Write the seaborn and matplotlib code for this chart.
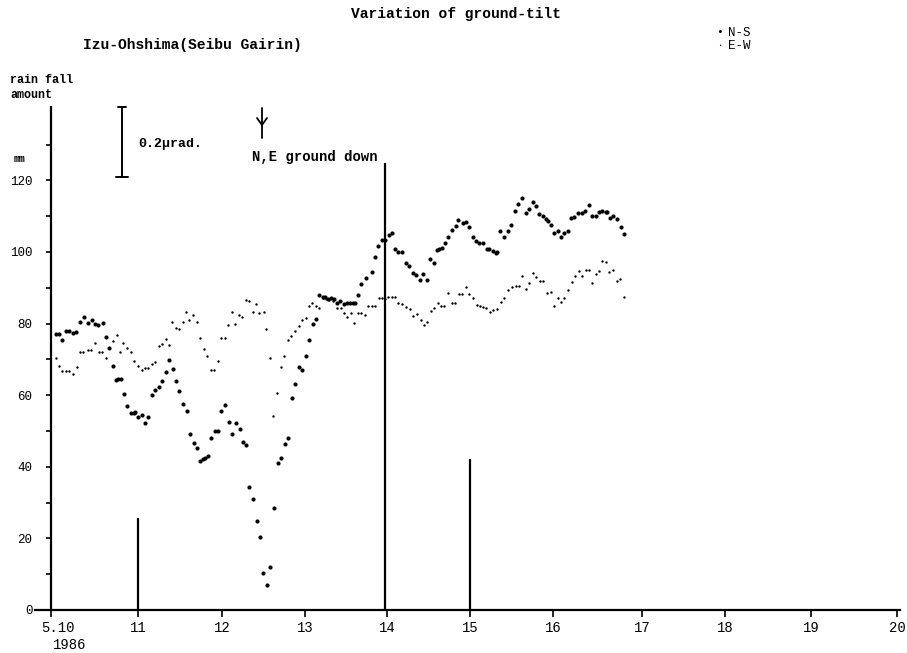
import numpy as np
import pandas as pd
import matplotlib
matplotlib.use("Agg")
import matplotlib.pyplot as plt
from matplotlib.lines import Line2D
from matplotlib.transforms import ScaledTranslation
import seaborn as sns

# ---------------- data (hours since 1986-05-10 00:00) ----------------
ns_hours = [1.4, 2.3, 3.2, 4.3, 5.1, 6.2, 7.1, 8.2, 9.4, 10.4, 11.5, 12.6, 13.4, 14.7,
            15.7, 16.5, 17.6, 18.5, 19.1, 19.8, 20.7, 21.6, 22.7, 23.5, 23.8, 24.6, 25.8,
            26.7, 27.6, 28.7, 29.6, 30.6, 31.6, 32.6, 33.5, 34.5, 35.4, 36.4, 37.4, 38.5,
            39.3, 40.5, 41.4, 42.3, 43.0, 43.8, 44.6, 45.3, 46.5, 47.5, 48.2, 49.3, 50.4,
            51.4, 52.4, 53.5, 54.4, 55.4, 56.2, 57.2, 58.4, 59.2, 60.1, 61.2, 62.1, 63.2,
            64.3, 65.3, 66.3, 67.3, 68.3, 69.3, 70.4, 71.3, 72.3, 73.3, 74.2, 75.2, 76.1,
            77.1, 77.7, 78.7, 79.4, 80.3, 81.1, 82.0, 83.1, 83.9, 84.8, 85.6, 86.2, 87.0,
            87.9, 89.4, 91.0, 91.9, 92.9, 94.0, 94.8, 96.0, 96.7, 97.6, 98.5, 99.5, 100.6,
            101.7, 102.6, 103.6, 104.7, 105.6, 106.8, 107.5, 108.6, 109.4, 110.2, 110.8,
            111.8, 112.7, 113.7, 114.8, 115.6, 116.8, 117.7, 118.7, 119.6, 120.6, 121.5,
            122.5, 123.6, 124.3, 125.3, 126.2, 126.6, 127.4, 128.5, 129.6, 130.5, 131.6,
            132.6, 133.7, 134.7, 135.7, 136.8, 137.6, 138.5, 139.5, 140.4, 141.1, 141.8,
            142.8, 143.7, 144.7, 145.6, 146.6, 147.5, 148.5, 149.6, 150.6, 151.5, 152.6,
            153.6, 154.5, 155.5, 156.4, 157.4, 157.8, 158.6, 159.5, 160.5, 161.6, 162.6]
ns_tilt = [77.0, 77.0, 75.4, 78.0, 78.0, 77.4, 77.6, 80.5, 81.8, 80.2, 81.0, 80.0, 79.6, 80.3,
           76.3, 73.2, 68.2, 64.2, 64.5, 64.6, 60.3, 57.0, 55.0, 55.1, 55.3, 53.9, 54.4,
           52.3, 54.0, 60.0, 61.5, 62.3, 64.0, 66.4, 69.8, 67.2, 64.1, 61.2, 57.5, 55.6,
           49.1, 46.6, 45.3, 41.7, 42.1, 42.5, 43.0, 48.0, 50.0, 50.0, 55.7, 57.2, 52.6,
           49.1, 52.2, 50.5, 47.0, 46.0, 34.4, 30.9, 24.9, 20.3, 10.4, 6.9, 11.9, 28.4,
           41.0, 42.5, 46.5, 48.1, 59.2, 63.0, 68.0, 67.0, 70.9, 75.4, 79.8, 81.4, 87.9,
           87.5, 87.3, 86.8, 87.1, 86.8, 85.8, 86.4, 85.4, 85.7, 85.8, 85.8, 85.8, 88.0,
           91.1, 92.7, 94.5, 98.5, 101.7, 103.4, 103.4, 104.7, 105.4, 100.8, 100.1, 100.1, 97.0,
           96.1, 94.2, 93.6, 92.2, 93.9, 92.2, 98.1, 96.8, 100.6, 100.8, 101.2,
           102.6, 104.3, 106.1, 107.3, 108.9, 108.0, 108.5, 106.9, 104.3, 103.2, 102.6,
           102.4, 100.8, 100.8, 100.4, 99.8, 100.1, 105.9, 104.1, 105.9, 107.5, 111.5,
           113.4, 115.0, 111.0, 111.9, 114.1, 112.8, 110.6, 110.1, 109.2, 108.7, 107.5,
           105.4, 105.9, 104.3, 105.4, 105.9, 109.4, 109.9, 111.0, 110.8, 111.5, 113.1,
           110.1, 110.1, 111.1, 111.5, 111.3, 111.1, 109.6, 110.1, 109.1, 107.1, 105.0]

ew_hours = [1.4, 2.3, 3.2, 4.3, 5.2, 6.3, 7.3, 8.2, 9.2, 10.4, 11.3, 12.6, 13.5, 14.5, 15.6,
            17.5, 18.6, 19.6, 20.5, 21.5, 22.6, 23.5, 24.6, 25.7, 26.7, 27.5, 28.6, 29.6,
            30.6, 31.6, 32.5, 33.4, 34.3, 35.4, 36.4, 37.4, 38.3, 39.2, 40.4, 41.3, 42.3,
            43.4, 44.3, 45.3, 46.3, 47.5, 48.2, 49.4, 50.3, 51.4, 52.3, 53.3, 54.3, 55.3,
            56.3, 57.2, 58.2, 59.1, 60.4, 61.1, 62.2, 63.1, 64.1, 65.3, 66.0, 67.2, 68.2,
            69.2, 70.3, 71.3, 72.3, 73.3, 74.1, 75.2, 76.1, 77.1, 78.0, 78.9, 79.9, 81.1,
            82.2, 83.1, 84.1, 85.1, 86.0, 87.1, 88.0, 89.0, 90.0, 91.0, 91.9, 93.1, 93.8,
            94.8, 95.7, 96.7, 97.6, 98.5, 99.7, 100.6, 101.8, 102.8, 103.7, 104.9, 105.8,
            106.8, 107.7, 108.7, 109.7, 110.6, 111.6, 112.7, 113.7, 114.6, 115.7, 116.7,
            117.7, 118.7, 119.6, 120.8, 121.7, 122.6, 123.4, 124.5, 125.5, 126.4, 127.7,
            128.6, 129.7, 130.9, 131.8, 132.8, 133.7, 134.7, 135.7, 136.7, 137.6, 138.7,
            139.7, 140.8, 141.8, 142.8, 143.7, 144.7, 145.6, 146.8, 147.7, 148.7, 149.8,
            150.7, 151.7, 152.6, 153.4, 154.5, 155.5, 156.4, 157.4, 158.4, 159.5, 160.5,
            161.4, 162.6]
ew_tilt = [70.3, 68.2, 66.8, 66.8, 66.8, 65.8, 68.0, 72.0, 72.0, 72.5, 72.5, 74.5, 72.1, 72.1, 70.3,
           75.2, 76.8, 72.2, 74.5, 73.1, 72.2, 69.6, 68.2, 67.0, 67.6, 67.6, 68.7, 69.4,
           73.8, 74.2, 75.7, 74.0, 80.4, 78.9, 78.4, 80.5, 83.3, 81.0, 82.4, 80.5, 75.9,
           72.9, 70.9, 67.0, 67.0, 69.6, 75.9, 75.9, 79.6, 83.3, 80.0, 82.4, 81.9, 86.6,
           86.3, 83.3, 85.5, 82.9, 83.3, 78.4, 70.3, 54.2, 60.7, 68.0, 70.9, 75.4, 76.5,
           78.0, 79.4, 81.0, 81.6, 84.9, 85.8, 84.9, 84.4, 87.2, 86.9, 86.6, 86.3, 84.4,
           84.4, 83.0, 81.8, 82.9, 80.3, 82.9, 82.9, 82.4, 84.9, 84.9, 84.9, 87.2, 87.1,
           86.9, 87.5, 87.5, 87.5, 85.7, 85.5, 84.7, 84.0, 82.2, 82.7, 81.0, 79.6,
           80.5, 83.5, 84.4, 85.8, 85.0, 85.0, 88.5, 85.8, 85.7, 88.2, 88.2,
           90.1, 88.2, 87.1, 85.2, 85.0, 84.7, 84.3, 83.2, 83.8, 84.1, 86.1,
           87.2, 89.4, 90.3, 90.6, 90.6, 93.3, 89.7, 91.3, 94.2, 93.1, 91.9,
           91.9, 88.5, 88.9, 84.9, 87.2, 86.1, 87.2, 89.4, 91.7, 93.4, 94.8,
           93.4, 95.0, 95.0, 91.4, 93.8, 94.8, 97.5, 97.1, 94.5, 95.0, 91.9,
           92.5, 87.3]

rain_hours = [24.7, 94.8, 118.9]    # plotted at the 11th, 14th, 15th May marks
rain_mm = [25.7, 124.9, 42.2]

tick_hours = [0, 24.7, 48.5, 72.1, 95.3, 118.9, 142.4, 167.7, 191.2, 215.6, 240]
tick_labels = ["5.10", "11", "12", "13", "14", "15", "16", "17", "18", "19", "20"]

# ---------------- figure ----------------
sns.set_theme(style="white")
plt.rcParams["font.family"] = ["Liberation Mono", "DejaVu Sans Mono"]

W, H = 907, 653
fig = plt.figure(figsize=(W / 100, H / 100), dpi=100)
fig.patch.set_facecolor("white")
ax = fig.add_axes([35 / W, 43 / H, 865 / W, 503 / H])
ax.set_facecolor("white")

ns_df = pd.DataFrame({"hour": ns_hours, "tilt": ns_tilt})
ew_df = pd.DataFrame({"hour": ew_hours, "tilt": ew_tilt})
sns.scatterplot(data=ns_df, x="hour", y="tilt", color="black", s=9,
                linewidth=0, ax=ax, zorder=3)
sns.scatterplot(data=ew_df, x="hour", y="tilt", color="black", s=3,
                linewidth=0, ax=ax, zorder=3)
ax.vlines(rain_hours, 0, rain_mm, color="black", lw=1.6, zorder=2)

ax.set_xlim(-4.54, 240.85)
ax.set_ylim(0, 140.5)
ax.set_xlabel("")
ax.set_ylabel("")

for s in ["top", "right"]:
    ax.spines[s].set_visible(False)
ax.spines["left"].set_position(("data", 0))
ax.spines["left"].set_bounds(0, 140.5)
for s in ["left", "bottom"]:
    ax.spines[s].set_color("black")
    ax.spines[s].set_linewidth(1.6)

yt = list(range(0, 131, 10))
ax.set_yticks(yt)
ax.set_yticklabels([str(v) if v % 20 == 0 else "" for v in yt])
ax.set_xticks(tick_hours)
ax.set_xticklabels(tick_labels)
ax.tick_params(axis="y", left=True, direction="out", length=3.5, width=1.2,
               colors="black", labelsize=9, pad=10)
ax.tick_params(axis="x", bottom=True, direction="out", length=5, width=1.2,
               colors="black", labelsize=10, pad=3)
first = ax.get_xticklabels()[0]
first.set_transform(first.get_transform() + ScaledTranslation(7 / 100, 0, fig.dpi_scale_trans))
ax.grid(False)


def P(px, py):
    return px / W, 1 - py / H


def T(px, py, s, size=10, ha="left", weight="normal"):
    fig.text(*P(px, py), s, ha=ha, va="center", fontsize=size, color="black",
             fontweight=weight)


T(456, 14, "Variation of ground-tilt", size=10.5, ha="center", weight="bold")
T(83, 45, "Izu-Ohshima(Seibu Gairin)", size=10.5, weight="bold")
T(716, 32, "•", size=8)
T(728, 33, "N-S", size=9)
T(718, 46, "•", size=4)
T(728, 46, "E-W", size=9)
T(10, 80, "rain fall", size=8.5, weight="bold")
T(10, 95, "amount", size=8.5, weight="bold")
T(14, 159, "mm", size=7, weight="bold")
T(138, 144, "0.2µrad.", size=9.5, weight="bold")
T(252, 157, "N,E ground down", size=10, weight="bold")
T(53, 645, "1986", size=10)


def L(xs, ys, lw=1.4):
    fig.add_artist(Line2D([x / W for x in xs], [1 - y / H for y in ys],
                          color="black", lw=lw))


# 0.2 µrad scale bar
L([122, 122], [107, 177])
L([118, 126], [107, 107])
L([116, 128], [177, 177])
# arrow "N,E ground down"
L([262, 262], [108, 138], lw=1.3)
L([257, 262], [118, 125], lw=1.3)
L([267, 262], [118, 125], lw=1.3)

fig.savefig("out.png", dpi=100, facecolor="white")
